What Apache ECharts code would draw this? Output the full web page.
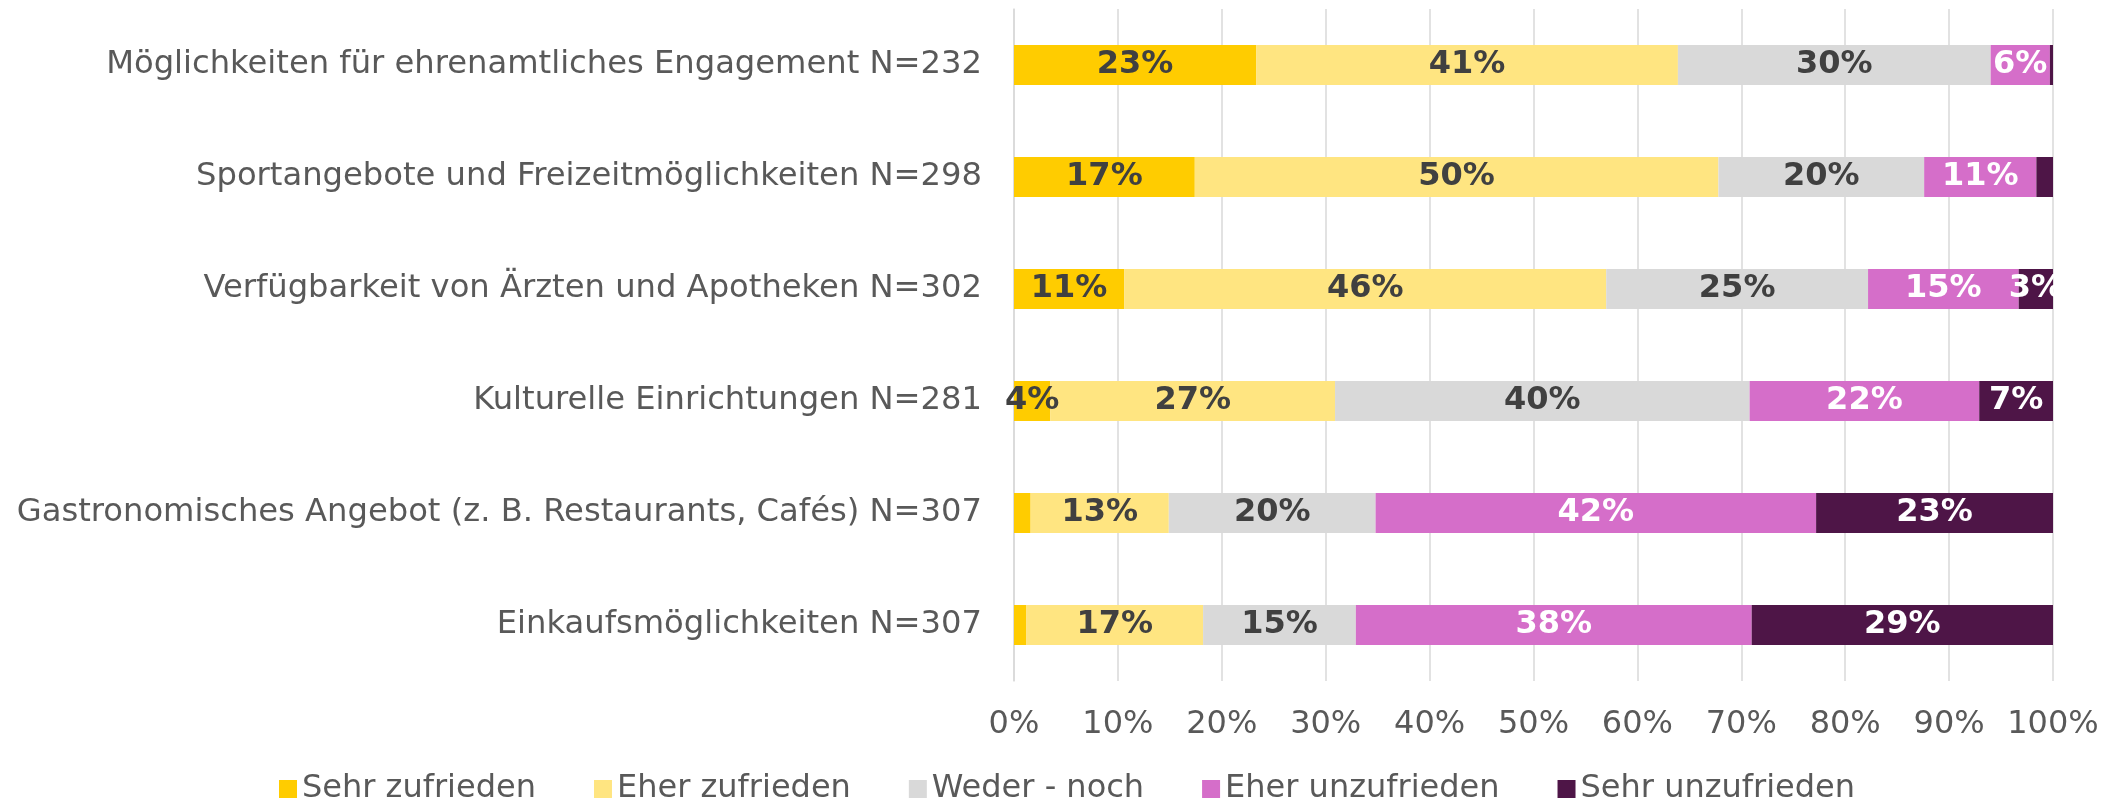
<!DOCTYPE html>
<html lang="de">
<head>
  <meta charset="UTF-8" />
  <title>Zufriedenheit mit Angeboten</title>
  <style>
    html, body { margin: 0; padding: 0; background: #fff; }
    #chart { width: 2121px; height: 799px; }
  </style>
  <script src="https://cdn.jsdelivr.net/npm/echarts@6/dist/echarts.min.js"></script>
</head>
<body>
  <div id="chart"></div>
  <script>
    // Kategorien (von oben nach unten)
    var categories = [
      'Möglichkeiten für ehrenamtliches Engagement N=232',
      'Sportangebote und Freizeitmöglichkeiten N=298',
      'Verfügbarkeit von Ärzten und Apotheken N=302',
      'Kulturelle Einrichtungen N=281',
      'Gastronomisches Angebot (z. B. Restaurants, Cafés) N=307',
      'Einkaufsmöglichkeiten N=307'
    ];

    // Anteile in Prozent
    var sehrZufrieden    = [23.3, 17.4, 10.6, 3.5, 1.6, 1.2];
    var eherZufrieden    = [40.6, 50.4, 46.4, 27.4, 13.3, 17.0];
    var wederNoch        = [30.1, 19.8, 25.2, 39.9, 19.9, 14.7];
    var eherUnzufrieden  = [5.7, 10.8, 14.5, 22.1, 42.4, 38.1];
    var sehrUnzufrieden  = [0.3, 1.6, 3.3, 7.1, 22.8, 29.0];

    var seriesNames = ['Sehr zufrieden', 'Eher zufrieden', 'Weder - noch', 'Eher unzufrieden', 'Sehr unzufrieden'];
    var seriesData = [sehrZufrieden, eherZufrieden, wederNoch, eherUnzufrieden, sehrUnzufrieden];
    var colors = ['#FFCC00', '#FFE581', '#D9D9D9', '#D56EC9', '#4E1547'];
    var labelColors = ['#404040', '#404040', '#404040', '#FFFFFF', '#FFFFFF'];

    var font = 'DejaVu Sans, Verdana, sans-serif';

    var chart = echarts.init(document.getElementById('chart'));

    var series = seriesNames.map(function (name, i) {
      return {
        name: name,
        type: 'bar',
        stack: 'total',
        barWidth: 40,
        data: seriesData[i],
        itemStyle: { color: colors[i] },
        label: {
          show: true,
          position: 'inside',
          color: labelColors[i],
          fontFamily: font,
          fontSize: 32,
          fontWeight: 'bold',
          padding: [6, 0, 0, 0],
          formatter: function (p) {
            return p.value < 2 ? '' : Math.round(p.value) + '%';
          }
        }
      };
    });

    chart.setOption({
      animation: false,
      grid: { left: 1014, right: 68, top: 9, bottom: 118 },
      legend: {
        left: 274,
        top: 768,
        itemWidth: 18,
        itemHeight: 18,
        itemGap: 58,
        icon: 'rect',
        textStyle: { color: '#595959', fontSize: 32, fontFamily: font },
        data: seriesNames
      },
      xAxis: {
        type: 'value',
        min: 0,
        max: 100,
        interval: 10,
        axisLine: { show: false },
        axisTick: { show: false },
        splitLine: { lineStyle: { color: '#D9D9D9', width: 1.5 } },
        axisLabel: {
          color: '#595959',
          fontSize: 32,
          fontFamily: font,
          margin: 28,
          formatter: '{value}%'
        }
      },
      yAxis: {
        type: 'category',
        inverse: true,
        data: categories,
        axisLine: { show: true, lineStyle: { color: '#D9D9D9', width: 1.5 } },
        axisTick: { show: false },
        axisLabel: {
          color: '#595959',
          fontSize: 32.2,
          fontFamily: font,
          margin: 32,
          padding: [12, 0, 0, 0]
        }
      },
      series: series
    });
  </script>
</body>
</html>
